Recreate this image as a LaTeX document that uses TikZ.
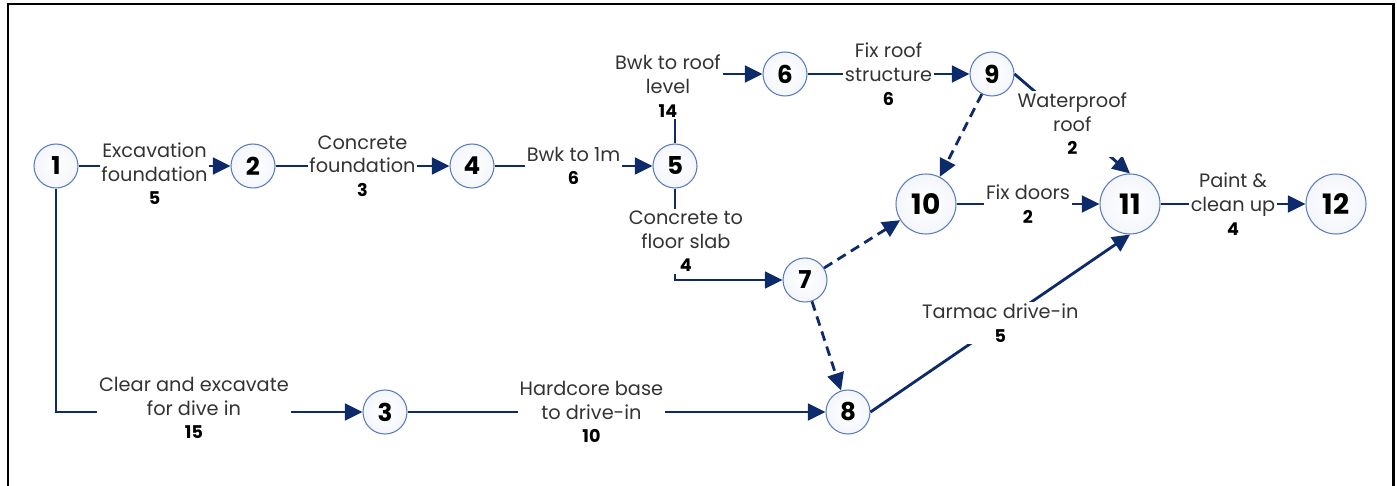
\documentclass[tikz,border=0pt]{standalone}
\usepackage{fontspec}
\setmainfont{Poppins}
\usetikzlibrary{arrows.meta}

\definecolor{navy}{HTML}{0D2A6B}
\definecolor{ring}{HTML}{5A7BBF}
\definecolor{txt}{HTML}{333333}
\newcommand{\dur}[1]{\textcolor{black}{\fontsize{10}{13.5}\selectfont\bfseries #1}}

\tikzset{
  event/.style={circle, draw=ring, line width=0.6pt, inner color=white, outer color=ring!7,
    minimum size=0.88cm, inner sep=0pt, font=\fontsize{14}{14}\selectfont\bfseries},
  bigevent/.style={event, minimum size=1.2cm, font=\fontsize{16}{16}\selectfont\bfseries},
  act/.style={draw=navy, line width=1.6pt, -{Triangle[length=10pt,width=9.5pt]}},
  dummy/.style={act, dash pattern=on 5.5pt off 3.5pt},
  lbl/.style={fill=white, align=center, inner sep=1pt, text=txt, font=\fontsize{11}{13.5}\selectfont}
}

\begin{document}
\begin{tikzpicture}[x=0.02cm, y=-0.02cm]
  \useasboundingbox (0,0) rectangle (1397,486);
  \draw[line width=1.7pt] (8,486) -- (8,4) -- (1393,4) -- (1393,486);

  % events
  \node[event] (n1) at (56,166) {1};
  \node[event] (n2) at (253,166) {2};
  \node[event] (n3) at (385,412) {3};
  \node[event] (n4) at (472,166) {4};
  \node[event] (n5) at (675,166) {5};
  \node[event] (n6) at (785,74) {6};
  \node[event] (n7) at (805,280) {7};
  \node[event] (n8) at (848,412) {8};
  \node[event] (n9) at (992,74) {9};
  \node[bigevent] (n10) at (926,204) {10};
  \node[bigevent] (n11) at (1130,204) {11};
  \node[bigevent] (n12) at (1336,204) {12};

  % activities
  \draw[act] (n1) -- node[lbl, yshift=-4.5pt] {Excavation\\foundation\\\dur{5}} (n2);
  \draw[act] (n2) -- node[lbl] {Concrete\\foundation\\\dur{3}} (n4);
  \draw[act] (n4) -- node[lbl] {Bwk to 1m\\\dur{6}} (n5);
  \draw[act] (n5) |- node[lbl, xshift=-4pt, yshift=-6.8pt] {Bwk to roof\\level\\\dur{14}} (n6);
  \draw[act] (n5) |- node[lbl, xshift=6.2pt, yshift=22pt] {Concrete to\\floor slab\\\dur{4}} (n7);
  \draw[act] (n6) -- node[lbl] {Fix roof\\structure\\\dur{6}} (n9);
  \draw[act] (n9.east) -- node[lbl] {Waterproof\\roof\\\dur{2}} (n11.north);
  \draw[act] (n10) -- node[lbl] {Fix doors\\\dur{2}} (n11);
  \draw[act] (n11) -- node[lbl] {Paint \&\\clean up\\\dur{4}} (n12);
  \draw[act] (n1) |- node[lbl, pos=.725, yshift=2.3pt] {Clear and excavate\\for dive in\\\dur{15}} (n3);
  \draw[act] (n3) -- node[lbl, pos=.44] {Hardcore base\\to drive-in\\\dur{10}} (n8);
  \draw[act] (n8.east) -- node[lbl] {Tarmac drive-in\\\dur{5}} (n11.south);

  % dummies
  \draw[dummy] (n9) -- (n10);
  \draw[dummy] (n7) -- (n10);
  \draw[dummy] (n7) -- (n8);
\end{tikzpicture}
\end{document}
